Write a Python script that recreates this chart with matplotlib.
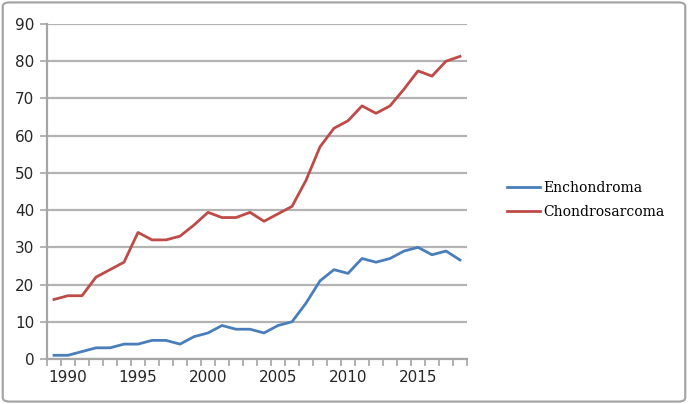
import matplotlib
matplotlib.use('Agg')
import matplotlib.pyplot as plt
from matplotlib.patches import FancyBboxPatch
import numpy as np

years = list(range(1989, 2019))
enchondroma = [1, 1, 2, 3, 3, 4, 4, 5, 5, 4, 6, 7, 9, 8, 8, 7, 9, 10, 15, 21,
               24, 23, 27, 26, 27, 29, 30, 28, 29, 26.6]
chondrosarcoma = [16, 17, 17, 22, 24, 26, 34, 32, 32, 33, 36, 39.4, 38, 38, 39.4, 37,
                  39, 41, 48, 57, 62, 64, 68, 66, 68, 72.5, 77.4, 76, 80, 81.3]
label_years = [1990, 1995, 2000, 2005, 2010, 2015]
y_ticks = list(range(0, 91, 10))

fig = plt.figure(figsize=(6.88, 4.04), dpi=100)
fig.patch.set_facecolor('white')

# outer frame like the spreadsheet chart border
frame = FancyBboxPatch((0.004, 0.006), 0.992, 0.988, boxstyle="round,pad=0,rounding_size=0.01",
                       transform=fig.transFigure, facecolor='none', edgecolor='#a6a6a6', linewidth=1.6)
fig.patches.append(frame)

ax = fig.add_axes([47 / 688, 1 - 359 / 404, 420 / 688, 335 / 404])
x = np.arange(len(years))

ax.plot(x, enchondroma, color='#4A7EBB', linewidth=2.0, label='Enchondroma', zorder=3)
ax.plot(x, chondrosarcoma, color='#BE4B48', linewidth=2.0, label='Chondrosarcoma', zorder=3)

ax.set_xlim(-0.5, len(years) - 0.5)
ax.set_ylim(0, 90)
ax.set_yticks(y_ticks)
ax.yaxis.grid(True, color='#b3b3b3', linewidth=1.6)
ax.set_axisbelow(True)

# category labels every 5 years, tick marks between categories
ax.set_xticks([years.index(y) for y in label_years])
ax.set_xticklabels([str(y) for y in label_years])
ax.set_xticks(np.arange(-0.5, len(years), 1), minor=True)
ax.tick_params(axis='x', which='major', length=0, pad=8)
ax.tick_params(axis='x', which='minor', length=5, color='#a6a6a6', width=1.2, direction='out')
ax.tick_params(axis='y', length=5, color='#a6a6a6', width=1.2, pad=4)
ax.tick_params(labelsize=11, labelcolor='#262626')

for s in ['top', 'right']:
    ax.spines[s].set_visible(False)
for s in ['left', 'bottom']:
    ax.spines[s].set_color('#a6a6a6')
    ax.spines[s].set_linewidth(1.6)

fig.legend(loc='center left', bbox_to_anchor=(494 / 688, 1 - 200 / 404), frameon=False,
           prop={'family': 'DejaVu Serif', 'size': 10}, handlelength=2.4, handletextpad=0.25,
           labelspacing=0.75)

fig.savefig('out.png', dpi=100)
